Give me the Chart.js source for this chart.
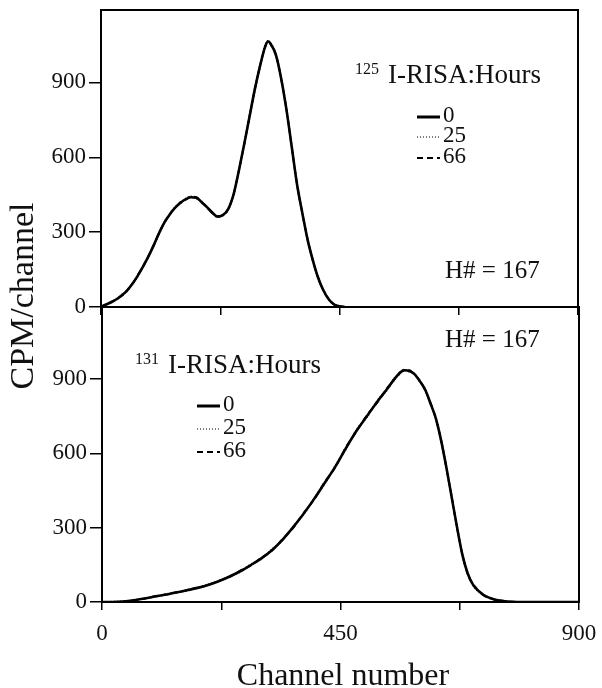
<!DOCTYPE html>
<html><head><meta charset="utf-8">
<script src="https://cdn.jsdelivr.net/npm/chart.js@4.4.0/dist/chart.umd.min.js"></script>
<style>
body{margin:0;background:#fff}
#wrap{position:relative;width:602px;height:688px;background:#fff}
canvas{position:absolute;left:0;top:0}
</style>
</head><body>
<div id="wrap"><canvas id="c1" width="602" height="688"></canvas><canvas id="c2" width="602" height="688"></canvas></div>
<script>
// ---- data ----
const xTicks = [0, 225, 450, 675, 900];
const xTickLabels = ['0', '', '450', '', '900'];
const yTicks = [0, 300, 600, 900];
const yTickLabels = ['0', '300', '600', '900'];
const hours = ['0', '25', '66'];

// 125I-RISA panel (top)
const topChannels = [0,10,20,30,40,50,60,70,80,90,100,110,120,130,140,150,160,170,180,190,200,210,220,230,240,250,260,270,280,290,300,310,315,320,330,340,350,360,370,380,390,400,410,420,430,440,450,460];
const top0h  = [2,10,20,32,48,68,95,128,165,205,250,298,340,372,398,418,432,440,438,420,400,378,362,368,392,450,545,650,760,870,965,1045,1065,1055,1010,915,790,640,490,375,268,185,115,65,30,10,3,0];
const top25h = [3,9,22,30,50,66,98,125,168,202,253,295,343,369,401,415,435,443,435,423,397,381,359,371,389,453,542,655,756,874,961,1049,1062,1058,1006,919,786,644,486,378,265,188,112,68,28,12,2,0];
const top66h = [1,11,19,34,46,70,93,131,163,207,248,300,338,374,396,421,430,442,440,418,402,376,364,366,395,448,548,647,763,867,968,1042,1068,1052,1013,912,793,637,493,372,271,182,118,63,32,9,4,0];

// 131I-RISA panel (bottom)
const botChannels = [0,20,40,60,80,100,120,140,160,180,200,220,240,260,280,300,320,340,360,380,400,420,440,460,480,500,520,540,550,560,570,580,590,600,610,620,630,640,650,660,670,680,690,700,720,740,760,780,800,900];
const bot0h  = [0,0,2,7,14,22,30,38,47,57,69,84,102,123,148,175,208,250,300,355,415,480,545,620,690,750,810,865,895,920,935,932,918,890,855,800,740,650,540,420,300,190,115,70,28,10,3,0,0,0];
const bot25h = [0,1,3,6,15,21,32,37,49,56,71,82,104,121,151,173,211,247,303,352,418,476,549,616,694,746,814,861,899,916,938,929,921,887,858,797,743,647,543,417,303,187,118,67,30,9,2,0,0,0];
const bot66h = [0,0,1,8,13,24,29,40,46,59,67,86,100,126,146,178,205,253,297,358,412,484,542,624,687,754,806,869,892,924,932,935,915,893,852,803,737,653,537,423,297,193,112,73,26,11,4,1,0,0];

// ---- drawing ----
const FONT = '"Liberation Serif", "Times New Roman", serif';
const dashes = [[], [1, 2], [6, 4]];

function toXY(ch, vals) { return ch.map((c, i) => ({x: c, y: vals[i]})); }

const framePlugin = {
  id: 'frame',
  afterDraw(chart, args, opts) {
    const {ctx, chartArea: a} = chart;
    ctx.save();
    ctx.strokeStyle = '#000';
    ctx.lineWidth = 2;
    ctx.strokeRect(a.left, a.top, a.right - a.left, a.bottom - a.top);
    ctx.fillStyle = '#111';
    ctx.textBaseline = 'alphabetic';
    ctx.textAlign = 'left';
    const L = opts.legend;
    ctx.font = '16px ' + FONT;
    ctx.fillText(L.iso, L.isoX, L.titleY - 9);
    ctx.font = '27px ' + FONT;
    ctx.fillText('I-RISA:Hours', L.titleX, L.titleY);
    hours.forEach((h, i) => {
      const y = L.rows[i];
      ctx.save();
      ctx.strokeStyle = '#000';
      ctx.lineWidth = i === 0 ? 3 : (i === 1 ? 1.2 : 2);
      ctx.setLineDash(dashes[i]);
      ctx.beginPath();
      ctx.moveTo(L.lineX0, y + 1);
      ctx.lineTo(L.lineX1, y + 1);
      ctx.stroke();
      ctx.restore();
      ctx.font = '23px ' + FONT;
      ctx.textBaseline = 'middle';
      ctx.fillText(h, L.lineX1 + 3, y);
      ctx.textBaseline = 'alphabetic';
    });
    ctx.font = '25px ' + FONT;
    ctx.fillText('H# = 167', opts.hX, opts.hY);
    if (opts.titles) {
      ctx.font = '32px ' + FONT;
      ctx.textAlign = 'center';
      ctx.fillText('Channel number', 343, 685);
      ctx.save();
      ctx.translate(33, 296);
      ctx.rotate(-Math.PI / 2);
      ctx.font = '34px ' + FONT;
      ctx.fillText('CPM/channel', 0, 0);
      ctx.restore();
    }
    ctx.restore();
  }
};

function makeChart(id, ch, series, area, showX, frameOpts) {
  const ds = series.map((vals, i) => ({
    label: hours[i],
    data: toXY(ch, vals),
    borderColor: '#000',
    borderWidth: i === 0 ? 2.6 : 1.8,
    borderDash: dashes[i],
    pointRadius: 0,
    cubicInterpolationMode: 'monotone',
    fill: false
  }));
  return new Chart(document.getElementById(id), {
    type: 'line',
    data: {datasets: ds},
    plugins: [framePlugin],
    options: {
      responsive: false,
      animation: false,
      events: [],
      layout: {padding: {left: 0, right: 602 - area.right, top: area.top, bottom: 0}},
      plugins: {legend: {display: false}, tooltip: {enabled: false}, frame: frameOpts},
      scales: {
        x: {
          type: 'linear', min: 0, max: 900,
          afterBuildTicks: s => { s.ticks = xTicks.map(v => ({value: v})); },
          afterFit: s => { s.height = 688 - area.bottom; s.paddingLeft = 0; s.paddingRight = 0; },
          border: {display: true, color: '#000', width: 2},
          grid: {drawOnChartArea: false, drawTicks: true, tickLength: 8, color: '#000', lineWidth: 1.5},
          ticks: {
            display: showX, padding: 10, color: '#111', maxRotation: 0, autoSkip: false,
            font: {family: FONT, size: 23},
            callback: (v) => { const i = xTicks.indexOf(v); return i >= 0 ? xTickLabels[i] : ''; }
          }
        },
        y: {
          type: 'linear', min: 0, max: 1190,
          afterBuildTicks: s => { s.ticks = yTicks.map(v => ({value: v})); },
          afterFit: s => { s.width = area.left; s.paddingTop = 0; s.paddingBottom = 0; },
          border: {display: true, color: '#000', width: 2},
          grid: {drawOnChartArea: false, drawTicks: true, tickLength: 12, color: '#000', lineWidth: 1.5},
          ticks: {
            padding: 3, color: '#111', autoSkip: false,
            font: {family: FONT, size: 23},
            callback: (v) => { const i = yTicks.indexOf(v); return i >= 0 ? yTickLabels[i] : ''; }
          }
        }
      }
    }
  });
}

makeChart('c1', topChannels, [top0h, top25h, top66h],
  {left: 101, right: 578, top: 10, bottom: 307}, false,
  {legend: {iso: '125', isoX: 355, titleX: 388, titleY: 83, lineX0: 417, lineX1: 440, rows: [116, 136, 157]},
   hX: 445, hY: 278, titles: false});

makeChart('c2', botChannels, [bot0h, bot25h, bot66h],
  {left: 102, right: 579, top: 307, bottom: 602}, true,
  {legend: {iso: '131', isoX: 135, titleX: 168, titleY: 373, lineX0: 197, lineX1: 220, rows: [405, 428, 451]},
   hX: 445, hY: 347, titles: true});
</script>
</body></html>
